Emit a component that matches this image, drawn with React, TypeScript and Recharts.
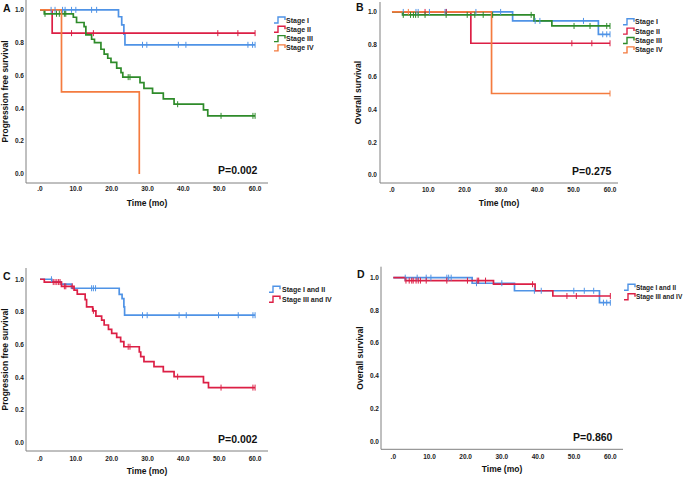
import { ComposedChart, Label, Line, Scatter, XAxis, YAxis } from 'recharts';

type Step = [number, number];

const timeTicks = [0, 10, 20, 30, 40, 50, 60];
const survivalTicks = [0, 0.2, 0.4, 0.6, 0.8, 1.0];

const stageNames = ['Stage I', 'Stage II', 'Stage III', 'Stage IV'];
const groupNames = ['Stage I and II', 'Stage III and IV'];
const stageColors = ['#4f93e6', '#dc1f45', '#2e8b2a', '#f47b3f'];
const groupColors = ['#4f93e6', '#dc1f45'];

// A: progression free survival by stage
const pfsStageI: Step[] = [[0, 1], [21.9, 0.958], [22.8, 0.909], [23.4, 0.852], [23.7, 0.787], [60, 0.787]];
const pfsStageICensored = [3.1, 4.2, 6.3, 7.0, 8.8, 10.0, 14.4, 15.8, 28.6, 29.8, 38.6, 40.7, 58.0, 59.3, 60];
const pfsStageII: Step[] = [[0, 1], [3.4, 0.858], [60, 0.858]];
const pfsStageIICensored = [8.8, 14.9, 49.6, 55.2, 60];
const pfsStageIII: Step[] = [
  [0, 1], [1.2, 0.976], [9.3, 0.955], [10.2, 0.923], [12.3, 0.898], [12.8, 0.848], [14.4, 0.821],
  [15.2, 0.8], [17.0, 0.76], [17.9, 0.73], [18.9, 0.705], [19.8, 0.68], [21.4, 0.645], [22.6, 0.618],
  [23.1, 0.59], [27.9, 0.557], [29.0, 0.522], [31.4, 0.492], [34.4, 0.457], [37.4, 0.425],
  [45.6, 0.39], [46.8, 0.354], [60, 0.354],
];
const pfsStageIIICensored = [1.4, 4.6, 5.4, 6.8, 7.2, 24.6, 25.1, 38.4, 50.5, 59.4, 60];
const pfsStageIV: Step[] = [[0, 1], [6.0, 0.5], [27.7, 0]];
const pfsStageIVCensored: number[] = [];

// B: overall survival by stage
const osStageI: Step[] = [[0, 1], [33.2, 0.945], [56.8, 0.863], [60, 0.863]];
const osStageICensored = [3.1, 6.6, 7.2, 10.3, 14.6, 15.0, 23.1, 29.9, 39.4, 40.7, 52.7, 58.0, 59.1, 60];
const osStageII: Step[] = [[0, 1], [21.7, 0.808], [60, 0.808]];
const osStageIICensored = [9.1, 14.9, 49.5, 55.0, 60];
const osStageIII: Step[] = [[0, 1], [2.9, 0.982], [39.1, 0.945], [44.0, 0.914], [60, 0.914]];
const osStageIIICensored = [3.1, 5.1, 5.9, 6.5, 7.2, 9.1, 14.9, 20.7, 22.8, 25.1, 27.7, 38.3, 50.1, 54.5, 59.1, 60];
const osStageIV: Step[] = [[0, 1], [27.4, 0.5], [60, 0.5]];
const osStageIVCensored = [4.5, 60];

// C: progression free survival, early vs late
const pfsEarly: Step[] = [
  [0, 1], [3.3, 0.985], [5.9, 0.97], [8.8, 0.945], [22.1, 0.907], [22.9, 0.882], [23.4, 0.831], [23.6, 0.78], [60, 0.78],
];
const pfsEarlyCensored = [3.2, 14.4, 14.9, 15.5, 28.6, 29.9, 38.8, 40.8, 49.8, 55.3, 59.4, 60];
const pfsLate: Step[] = [
  [0, 1], [1.2, 0.983], [6.0, 0.957], [9.5, 0.933], [10.4, 0.909], [12.6, 0.876], [13.0, 0.831],
  [14.7, 0.807], [15.6, 0.775], [17.2, 0.75], [17.9, 0.72], [19.1, 0.693], [20.0, 0.669], [21.4, 0.645],
  [22.5, 0.618], [23.4, 0.587], [27.7, 0.555], [28.1, 0.527], [29.0, 0.496], [31.8, 0.465], [34.4, 0.435],
  [37.4, 0.404], [45.6, 0.368], [47.0, 0.337], [60, 0.337],
];
const pfsLateCensored = [3.7, 4.2, 4.7, 5.2, 5.6, 6.8, 7.2, 9.0, 14.9, 24.6, 25.1, 38.4, 50.5, 59.4, 60];

// D: overall survival, early vs late
const osEarly: Step[] = [[0, 1], [21.8, 0.966], [33.5, 0.92], [57.0, 0.847], [60, 0.847]];
const osEarlyCensored = [3.3, 6.6, 9.1, 10.4, 14.8, 15.3, 16.0, 23.0, 30.0, 39.0, 40.9, 49.9, 52.8, 55.4, 58.1, 59.0, 60];
const osLate: Step[] = [[0, 1], [3.3, 0.982], [27.7, 0.96], [39.2, 0.92], [44.1, 0.888], [60, 0.888]];
const osLateCensored = [3.5, 4.4, 5.1, 5.5, 6.3, 6.9, 7.5, 9.1, 14.8, 20.5, 23.2, 23.6, 25.5, 38.5, 48.0, 50.6, 60];

const tickFont = "'Liberation Sans Narrow', 'Arial Narrow', Arial, sans-serif";
const textFont = "'Liberation Sans', Arial, sans-serif";

interface Series {
  name: string;
  color: string;
  steps: Step[];
  censored: number[];
}

function survivalAt(steps: Step[], t: number): number {
  let s = steps[0][1];
  for (const [time, value] of steps) {
    if (time <= t) s = value;
  }
  return s;
}

function CensorTick(props: any) {
  const { cx, cy, color } = props;
  if (cx == null || cy == null) return null;
  return <line x1={cx} x2={cx} y1={cy - 3} y2={cy + 3} stroke={color} strokeWidth={1} />;
}

interface PanelProps {
  left: number;
  top: number;
  width: number;
  height: number;
  margin: { top: number; right: number; bottom: number; left: number };
  yAxisWidth: number;
  xDomain: [number, number];
  yDomain: [number, number];
  yLabel: string;
  yLabelOffset: number;
  xTickMargin: number;
  yTickMargin: number;
  series: Series[];
}

function KmPanel(p: PanelProps) {
  return (
    <div style={{ position: 'absolute', left: p.left, top: p.top }}>
      <ComposedChart width={p.width} height={p.height} margin={p.margin}>
        <XAxis
          type="number"
          dataKey="t"
          domain={p.xDomain}
          ticks={timeTicks}
          allowDataOverflow
          tickFormatter={(v: number) => (v === 0 ? '.0' : v.toFixed(1))}
          tickLine={false}
          tickSize={0}
          tickMargin={p.xTickMargin}
          height={24}
          axisLine={{ stroke: '#808080' }}
          tick={{ fill: '#222', fontSize: 6.5, fontWeight: 'bold', fontFamily: tickFont }}
        >
          <Label
            value="Time (mo)"
            position="insideBottom"
            offset={1}
            fill="#111"
            fontSize={8.5}
            fontWeight="bold"
            fontFamily={textFont}
          />
        </XAxis>
        <YAxis
          type="number"
          dataKey="s"
          domain={p.yDomain}
          ticks={survivalTicks}
          allowDataOverflow
          width={p.yAxisWidth}
          tickFormatter={(v: number) => v.toFixed(1)}
          tickLine={false}
          tickSize={0}
          tickMargin={p.yTickMargin}
          axisLine={{ stroke: '#808080' }}
          tick={{ fill: '#222', fontSize: 6.5, fontWeight: 'bold', fontFamily: tickFont }}
        >
          <Label
            value={p.yLabel}
            angle={-90}
            position="insideLeft"
            offset={p.yLabelOffset}
            fill="#111"
            fontSize={8.5}
            fontWeight="bold"
            fontFamily={textFont}
            style={{ textAnchor: 'middle' }}
          />
        </YAxis>
        {p.series.map((s) => (
          <Line
            key={s.name}
            data={s.steps.map(([t, v]) => ({ t, s: v }))}
            dataKey="s"
            type="stepAfter"
            stroke={s.color}
            strokeWidth={1.7}
            dot={false}
            activeDot={false}
            isAnimationActive={false}
          />
        ))}
        {p.series.map((s) => (
          <Scatter
            key={s.name + '-c'}
            data={s.censored.map((t) => ({ t, s: survivalAt(s.steps, t) }))}
            dataKey="s"
            isAnimationActive={false}
            shape={(props: any) => <CensorTick {...props} color={s.color} />}
          />
        ))}
      </ComposedChart>
    </div>
  );
}

function LegendIcon({ x, y, color }: { x: number; y: number; color: string }) {
  return (
    <path
      d={`M${x},${y + 3} H${x + 4} V${y - 3} H${x + 11} V${y}`}
      fill="none"
      stroke={color}
      strokeWidth={1.4}
    />
  );
}

function Overlay() {
  const legendA = stageNames.map((n, i) => ({ n, c: stageColors[i], y: 20 + i * 9.3 }));
  const legendB = stageNames.map((n, i) => ({ n, c: stageColors[i], y: 21.7 + i * 9.4 }));
  const legendC = groupNames.map((n, i) => ({ n, c: groupColors[i], y: 289.3 + i * 10 }));
  const legendD = groupNames.map((n, i) => ({ n, c: groupColors[i], y: 287.3 + i * 9.4 }));
  const letter = { fontFamily: textFont, fontWeight: 'bold' as const, fontSize: 10.5, fill: '#111' };
  const pval = { fontFamily: textFont, fontWeight: 'bold' as const, fontSize: 10.5, fill: '#111' };
  const leg = (size: number) => ({ fontFamily: textFont, fontWeight: 'bold' as const, fontSize: size, fill: '#222' });
  const legendBlock = (items: { n: string; c: string; y: number }[], ix: number, tx: number, size: number) =>
    items.map((it) => (
      <g key={it.n + ix}>
        <LegendIcon x={ix} y={it.y} color={it.c} />
        <text x={tx} y={it.y + 2.5} {...leg(size)}>{it.n}</text>
      </g>
    ));
  return (
    <svg width={685} height={478} style={{ position: 'absolute', left: 0, top: 0, pointerEvents: 'none' }}>
      <text x={3} y={12} {...letter}>A</text>
      <text x={356} y={11} {...letter}>B</text>
      <text x={3} y={280} {...letter}>C</text>
      <text x={357} y={278} {...letter}>D</text>
      <text x={218} y={174} {...pval}>P=0.002</text>
      <text x={572} y={175} {...pval}>P=0.275</text>
      <text x={218} y={443} {...pval}>P=0.002</text>
      <text x={573} y={441} {...pval}>P=0.860</text>
      {legendBlock(legendA, 274, 286, 7)}
      {legendBlock(legendB, 623, 635, 7)}
      {legendBlock(legendC, 269, 282, 7)}
      {legendBlock(legendD, 624, 636, 6.5)}
    </svg>
  );
}

export default function App() {
  const seriesA: Series[] = [
    { name: stageNames[0], color: stageColors[0], steps: pfsStageI, censored: pfsStageICensored },
    { name: stageNames[1], color: stageColors[1], steps: pfsStageII, censored: pfsStageIICensored },
    { name: stageNames[2], color: stageColors[2], steps: pfsStageIII, censored: pfsStageIIICensored },
    { name: stageNames[3], color: stageColors[3], steps: pfsStageIV, censored: pfsStageIVCensored },
  ];
  const seriesB: Series[] = [
    { name: stageNames[0], color: stageColors[0], steps: osStageI, censored: osStageICensored },
    { name: stageNames[1], color: stageColors[1], steps: osStageII, censored: osStageIICensored },
    { name: stageNames[2], color: stageColors[2], steps: osStageIII, censored: osStageIIICensored },
    { name: stageNames[3], color: stageColors[3], steps: osStageIV, censored: osStageIVCensored },
  ];
  const seriesC: Series[] = [
    { name: groupNames[0], color: groupColors[0], steps: pfsEarly, censored: pfsEarlyCensored },
    { name: groupNames[1], color: groupColors[1], steps: pfsLate, censored: pfsLateCensored },
  ];
  const seriesD: Series[] = [
    { name: groupNames[0], color: groupColors[0], steps: osEarly, censored: osEarlyCensored },
    { name: groupNames[1], color: groupColors[1], steps: osLate, censored: osLateCensored },
  ];

  return (
    <div style={{ position: 'absolute', left: 0, top: 0, width: 685, height: 478, background: '#fff', overflow: 'hidden' }}>
      <KmPanel
        left={0}
        top={0}
        width={340}
        height={240}
        margin={{ top: 0, right: 72, bottom: 33, left: 0 }}
        yAxisWidth={26}
        xDomain={[-3.9, 63.6]}
        yDomain={[-0.055, 1.06]}
        yLabel="Progression free survival"
        yLabelOffset={5}
        xTickMargin={3}
        yTickMargin={2}
        series={seriesA}
      />
      <KmPanel
        left={340}
        top={0}
        width={345}
        height={240}
        margin={{ top: 2, right: 67, bottom: 33, left: 0 }}
        yAxisWidth={40}
        xDomain={[-3.3, 62.2]}
        yDomain={[-0.049, 1.061]}
        yLabel="Overall survival"
        yLabelOffset={18}
        xTickMargin={4}
        yTickMargin={3}
        series={seriesB}
      />
      <KmPanel
        left={0}
        top={240}
        width={340}
        height={238}
        margin={{ top: 28, right: 72, bottom: 3, left: 0 }}
        yAxisWidth={26}
        xDomain={[-3.9, 63.6]}
        yDomain={[-0.051, 1.069]}
        yLabel="Progression free survival"
        yLabelOffset={5}
        xTickMargin={5}
        yTickMargin={2}
        series={seriesC}
      />
      <KmPanel
        left={340}
        top={240}
        width={345}
        height={238}
        margin={{ top: 26.7, right: 62, bottom: 4.7, left: 0 }}
        yAxisWidth={41}
        xDomain={[-3.4, 63.5]}
        yDomain={[-0.049, 1.067]}
        yLabel="Overall survival"
        yLabelOffset={20}
        xTickMargin={5}
        yTickMargin={2}
        series={seriesD}
      />
      <Overlay />
    </div>
  );
}
